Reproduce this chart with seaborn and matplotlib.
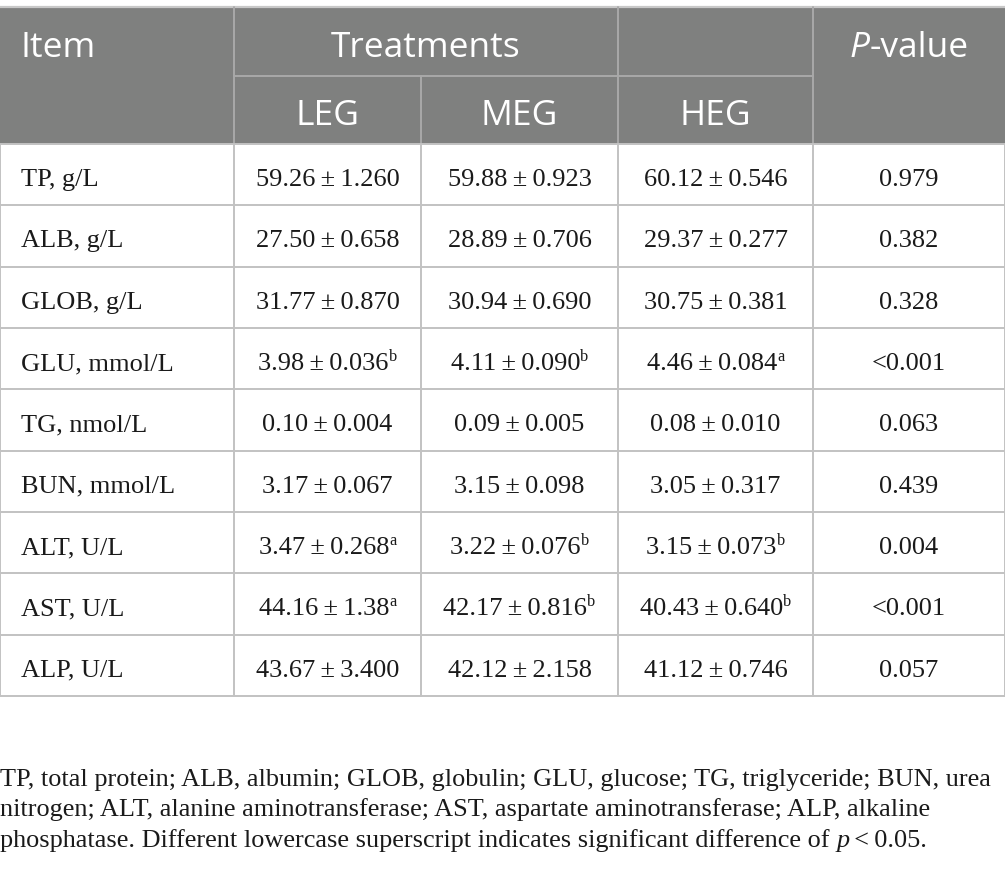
import matplotlib
matplotlib.use("Agg")
import matplotlib.pyplot as plt
import seaborn as sns
from matplotlib.patches import Rectangle

sns.set_theme(style="white")

# ---------------- data ----------------
items = ["TP, g/L", "ALB, g/L", "GLOB, g/L", "GLU, mmol/L", "TG, nmol/L",
         "BUN, mmol/L", "ALT, U/L", "AST, U/L", "ALP, U/L"]
groups = ["LEG", "MEG", "HEG"]
leg_vals = ["59.26", "27.50", "31.77", "3.98", "0.10", "3.17", "3.47", "44.16", "43.67"]
leg_sem = ["1.260", "0.658", "0.870", "0.036", "0.004", "0.067", "0.268", "1.38", "3.400"]
leg_sup = ["", "", "", "b", "", "", "a", "a", ""]
meg_vals = ["59.88", "28.89", "30.94", "4.11", "0.09", "3.15", "3.22", "42.17", "42.12"]
meg_sem = ["0.923", "0.706", "0.690", "0.090", "0.005", "0.098", "0.076", "0.816", "2.158"]
meg_sup = ["", "", "", "b", "", "", "b", "b", ""]
heg_vals = ["60.12", "29.37", "30.75", "4.46", "0.08", "3.05", "3.15", "40.43", "41.12"]
heg_sem = ["0.546", "0.277", "0.381", "0.084", "0.010", "0.317", "0.073", "0.640", "0.746"]
heg_sup = ["", "", "", "a", "", "", "b", "b", ""]
p_values = ["0.979", "0.382", "0.328", "<0.001", "0.063", "0.439", "0.004", "<0.001", "0.057"]

footnote_lines = [
    "TP, total protein; ALB, albumin; GLOB, globulin; GLU, glucose; TG, triglyceride; BUN, urea",
    "nitrogen; ALT, alanine aminotransferase; AST, aspartate aminotransferase; ALP, alkaline",
    "phosphatase. Different lowercase superscript indicates significant difference of ",
]

# ---------------- layout ----------------
W, H = 1005, 879
fig = plt.figure(figsize=(W / 100, H / 100), dpi=100)
ax = fig.add_axes([0, 0, 1, 1])
ax.set_xlim(0, W)
ax.set_ylim(H, 0)
ax.axis("off")

col_x = [0, 234, 421, 618, 813, 1004.5]
top, mid, hbot = 8, 77, 145
row_h = (697 - hbot) / len(items)

HEAD = "#7f807f"
HLINE = "#a9a9a9"
BLINE = "#c2c2c2"
TXT = "#1a1a1a"
serif = ["Liberation Serif", "DejaVu Serif"]
sans = ["Open Sans", "DejaVu Sans"]
fs_body = 19.0
fs_head = 25.5

# header background
ax.add_patch(Rectangle((0, top), W, hbot - top, facecolor=HEAD, edgecolor="none", zorder=0))
ax.plot([0, W], [top, top], color="#c8c8c8", lw=1.6, zorder=2)
for x in [234, 618, 813]:
    ax.plot([x, x], [top, hbot], color=HLINE, lw=1.4, zorder=2)
ax.plot([421, 421], [mid, hbot], color=HLINE, lw=1.4, zorder=2)
ax.plot([234, 813], [mid, mid], color=HLINE, lw=1.4, zorder=2)

# body grid
for i in range(len(items) + 1):
    y = hbot + i * row_h
    ax.plot([0, W], [y, y], color=BLINE, lw=1.4, zorder=2)
for x in col_x:
    ax.plot([x, x], [hbot, hbot + len(items) * row_h], color=BLINE, lw=1.4, zorder=2)

fig.canvas.draw()
renderer = fig.canvas.get_renderer()


def width_of(t):
    bb = t.get_window_extent(renderer=renderer)
    return bb.width


def centered_parts(cx, y, parts, **common):
    """parts: list of (text, kwargs, dy). Places them left to right, centered at cx."""
    objs = []
    for txt, kw, dy in parts:
        kk = dict(common)
        kk.update(kw)
        o = ax.text(0, y + dy, txt, ha="left", va="baseline", **kk)
        objs.append(o)
    ws = [width_of(o) for o in objs]
    x = cx - sum(ws) / 2
    for o, w in zip(objs, ws):
        o.set_x(x)
        x += w
    return objs


# header texts
hy1 = 57
hy2 = 125
ax.text(20, hy1, "Item", ha="left", va="baseline", color="white", fontsize=fs_head, family=sans)
ax.text((234 + 618) / 2, hy1, "Treatments", ha="center", va="baseline", color="white",
        fontsize=fs_head, family=sans)
centered_parts((813 + W) / 2, hy1,
               [("P", dict(style="italic"), 0), ("-value", {}, 0)],
               color="white", fontsize=fs_head, family=sans)
for j, g in enumerate(groups):
    ax.text((col_x[j + 1] + col_x[j + 2]) / 2, hy2, g, ha="center", va="baseline",
            color="white", fontsize=fs_head, family=sans)

# body texts
PM = "\u2009\u00b1\u2009"
cols = [(leg_vals, leg_sem, leg_sup), (meg_vals, meg_sem, meg_sup), (heg_vals, heg_sem, heg_sup)]
for i, item in enumerate(items):
    yb = hbot + (i + 0.5) * row_h + 10.5
    ax.text(21, yb, item, ha="left", va="baseline", color=TXT, fontsize=fs_body, family=serif)
    for j, (vals, sems, sups) in enumerate(cols):
        cx = (col_x[j + 1] + col_x[j + 2]) / 2
        s = vals[i] + PM + sems[i]
        if sups[i]:
            centered_parts(cx, yb, [(s, {}, 0), (sups[i], dict(fontsize=fs_body * 0.62), -9.5)],
                           color=TXT, fontsize=fs_body, family=serif)
        else:
            ax.text(cx, yb, s, ha="center", va="baseline", color=TXT, fontsize=fs_body, family=serif)
    ax.text((813 + W) / 2, yb, p_values[i], ha="center", va="baseline", color=TXT,
            fontsize=fs_body, family=serif)

# footnote
fy = [786, 816.5, 847]
fs_foot = 18.9
ax.text(0, fy[0], footnote_lines[0], ha="left", va="baseline", color=TXT, fontsize=fs_foot, family=serif)
ax.text(0, fy[1], footnote_lines[1], ha="left", va="baseline", color=TXT, fontsize=fs_foot, family=serif)
parts = [(footnote_lines[2], {}, 0), ("p", dict(style="italic"), 0), ("\u2009<\u20090.05.", {}, 0)]
objs = []
for txt, kw, dy in parts:
    objs.append(ax.text(0, fy[2], txt, ha="left", va="baseline", color=TXT, fontsize=fs_foot,
                        family=serif, **kw))
x = 0
for o in objs:
    o.set_x(x)
    x += width_of(o)

fig.savefig("out.png", dpi=100, facecolor="white")
